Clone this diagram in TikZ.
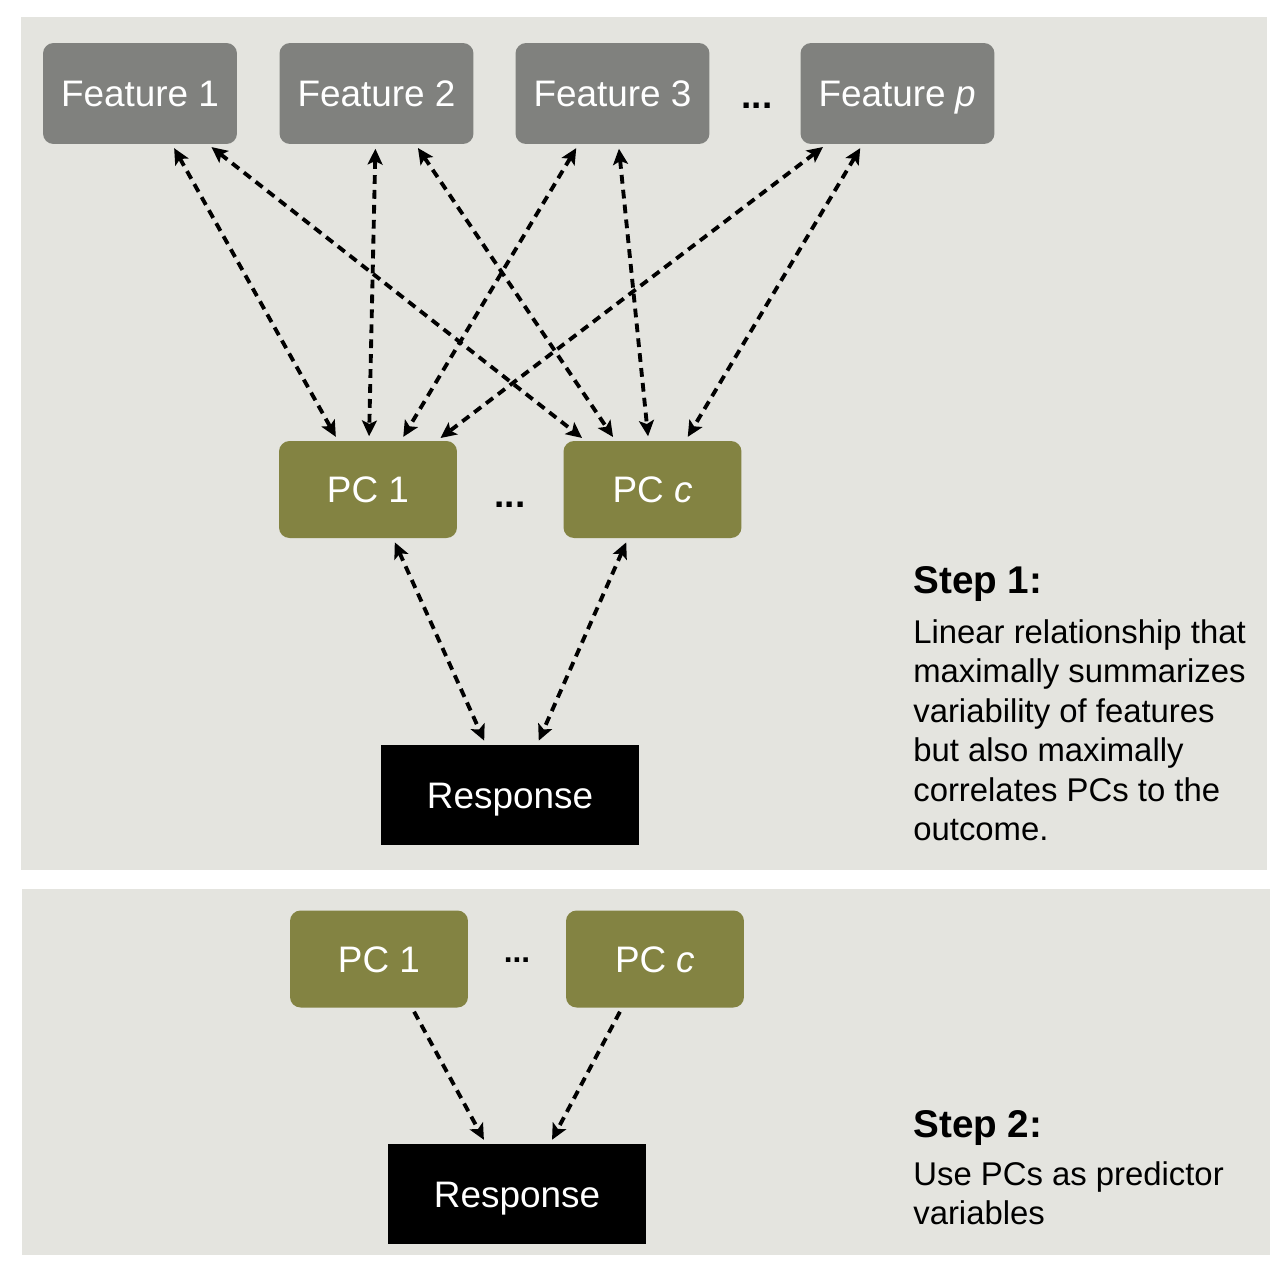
\documentclass[tikz,border=0pt]{standalone}
\usepackage{fontspec}
\setmainfont{Liberation Sans}
\usepackage{tikz}
\usetikzlibrary{arrows.meta}
\usetikzlibrary{positioning}
\definecolor{panelbg}{RGB}{228,228,223}
\definecolor{featgray}{RGB}{128,129,126}
\definecolor{pcolive}{RGB}{131,131,66}

\begin{document}
\begin{tikzpicture}[
			x=0.02cm, y=-0.02cm,
			every node/.style={font=\fontsize{21}{25}\selectfont, text=white},
			box/.style={rectangle, inner sep=0pt, text height=15pt, text depth=0pt},
			feature/.style={box, rounded corners=6pt, fill=featgray, minimum width=3.88cm, minimum height=2.02cm},
			pcbox/.style={box, rounded corners=6pt, fill=pcolive, minimum width=3.56cm, minimum height=1.94cm},
			respbox/.style={box, fill=black, minimum width=5.16cm, minimum height=2.0cm},
			link/.style={line width=2.2pt, dash pattern=on 5pt off 3.5pt, shorten <=2.5pt, shorten >=2.5pt},
			twoway/.style={link, {Stealth[length=9pt,width=8.5pt,inset=2pt]}-{Stealth[length=9pt,width=8.5pt,inset=2pt]}},
			oneway/.style={link, -{Stealth[length=9pt,width=8.5pt,inset=2pt]}},
			steptitle/.style={font=\bfseries\fontsize{22}{26}\selectfont, text=black, anchor=base west, inner sep=0pt},
			steptext/.style={font=\fontsize{18.7}{22.5}\selectfont, text=black, anchor=north west, align=left, inner sep=0pt}
		]
		\useasboundingbox (0,0) rectangle (1286,1276);

		% Panels
		\fill[panelbg] (21,17) rectangle (1267,870);
		\fill[panelbg] (22,889) rectangle (1270,1255);

		% Step 1: features
		\node[feature] (f1) at (140,93.5) {Feature 1};
		\node[feature] (f2) at (376.5,93.5) {Feature 2};
		\node[feature] (f3) at (612.5,93.5) {Feature 3};
		\node[feature] (fp) at (897.5,93.5) {Feature \textit{p}};
		\node[text=black, anchor=base, font=\bfseries\fontsize{21}{25}\selectfont] (fdots) at (757,108) {...};

		% Step 1: components
		\node[pcbox] (pcone) at (368,489.5) {PC 1};
		\node[pcbox] (pcc) at (652.5,489.5) {PC \textit{c}};
		\node[text=black, anchor=base, font=\bfseries\fontsize{21}{25}\selectfont] (pcdots) at (510,507) {...};
		\node[respbox] (resp) at (510,795) {Response};

		% Step 1: links features <-> components
		\foreach \src/\sx/\dst/\dx in {f1/32/pcone/-30, f1/68/pcc/-67, f2/-1/pcone/1, f2/39/pcc/-37,
				f3/-34/pcone/33, f3/6/pcc/-4, fp/-71/pcone/69, fp/-35/pcc/33}
		\draw[twoway] ([xshift={\sx*0.02cm}]\src.south) -- ([xshift={\dx*0.02cm}]\dst.north);

		% Step 1: components <-> response
		\draw[twoway] ([xshift=0.5cm]pcone.south) -- ([xshift=-0.48cm]resp.north);
		\draw[twoway] ([xshift=-0.49cm]pcc.south) -- ([xshift=0.54cm]resp.north);

		\node[steptitle] (step1) at (913,593) {Step 1:};
		\node[steptext] (step1txt) at (913,619) {Linear relationship that\\maximally summarizes\\variability of features\\but also maximally\\correlates PCs to the\\outcome.};

		% Step 2
		\node[pcbox] (pconeb) at (379,959) {PC 1};
		\node[pcbox] (pccb) at (655,959) {PC \textit{c}};
		\node[text=black, anchor=base, font=\bfseries\fontsize{18}{22}\selectfont] (pcdotsb) at (517,962) {...};
		\node[respbox] (respb) at (517,1194) {Response};
		\draw[oneway] ([xshift=0.66cm]pconeb.south) -- ([xshift=-0.62cm]respb.north);
		\draw[oneway] ([xshift=-0.66cm]pccb.south) -- ([xshift=0.66cm]respb.north);

		\node[steptitle] (step2) at (913,1137) {Step 2:};
		\node[steptext] (step2txt) at (913,1161) {Use PCs as predictor\\variables};

	\end{tikzpicture}
\end{document}
